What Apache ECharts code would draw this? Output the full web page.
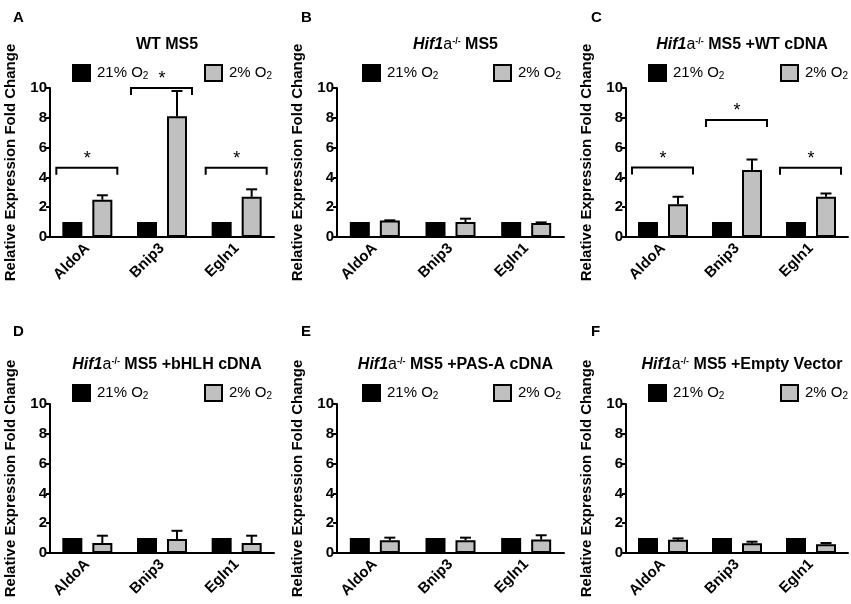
<!DOCTYPE html>
<html>
<head>
<meta charset="utf-8">
<script src="https://cdn.jsdelivr.net/npm/echarts@6/dist/echarts.min.js"></script>
<style>
  html, body { margin: 0; padding: 0; background: #fff; }
  #chart { width: 851px; height: 604px; }
</style>
</head>
<body>
<div id="chart"></div>
<script>
// категории по оси X (общие для всех панелей)
var categories = ['AldoA', 'Bnip3', 'Egln1'];
var legendNames = ['21% O2', '2% O2'];

// A: WT MS5
var normA = [1, 1, 1];
var hypoA = [2.5, 8.1, 2.7];
var errA = [0.3, 1.7, 0.5];
var sigA = [4.65, 10.0, 4.65];

// B: Hif1a-/- MS5
var normB = [1, 1, 1];
var hypoB = [1.1, 1.0, 0.94];
var errB = [0.02, 0.23, 0.04];

// C: Hif1a-/- MS5 +WT cDNA
var normC = [1, 1, 1];
var hypoC = [2.2, 4.5, 2.7];
var errC = [0.5, 0.7, 0.22];
var sigC = [4.66, 7.85, 4.64];

// D: +bHLH cDNA
var normD = [1, 1, 1];
var hypoD = [0.67, 0.94, 0.67];
var errD = [0.49, 0.55, 0.49];

// E: +PAS-A cDNA
var normE = [1, 1, 1];
var hypoE = [0.86, 0.86, 0.9];
var errE = [0.17, 0.17, 0.29];

// F: +Empty Vector
var normF = [1, 1, 1];
var hypoF = [0.89, 0.65, 0.58];
var errF = [0.09, 0.11, 0.09];

var panels = [
    { letter: 'A', title: '{b|WT MS5}', norm: normA, hypo: hypoA, err: errA, sig: sigA },
    { letter: 'B', title: '{i|Hif1}{a|a}{sup|-/-}{b| MS5}', norm: normB, hypo: hypoB, err: errB },
    { letter: 'C', title: '{i|Hif1}{a|a}{sup|-/-}{b| MS5 +WT cDNA}', norm: normC, hypo: hypoC, err: errC, sig: sigC },
    { letter: 'D', title: '{i|Hif1}{a|a}{sup|-/-}{b| MS5 +bHLH cDNA}', norm: normD, hypo: hypoD, err: errD },
    { letter: 'E', title: '{i|Hif1}{a|a}{sup|-/-}{b| MS5 +PAS-A cDNA}', norm: normE, hypo: hypoE, err: errE },
    { letter: 'F', title: '{i|Hif1}{a|a}{sup|-/-}{b| MS5 +Empty Vector}', norm: normF, hypo: hypoF, err: errF }
];

var FONT = 'Arial, "Liberation Sans", sans-serif';
// расположение сеток
var colLeft = [50, 337, 626];
var colWidth = [224, 227, 222];
var rowTop = [88, 404];
var gridH = 149;
var letterX = [8, 296, 586];
var legendX = [[72, 204], [362, 493], [648, 780]];
var BAR_OFFSET = 15; // центр серого столбца относительно центра категории

var titleRich = {
    b: { fontWeight: 'bold', fontSize: 16, color: '#000', fontFamily: FONT },
    i: { fontWeight: 'bold', fontStyle: 'italic', fontSize: 16, color: '#000', fontFamily: FONT },
    a: { fontWeight: 'normal', fontSize: 16, color: '#000', fontFamily: FONT },
    sup: { fontSize: 9, color: '#000', fontFamily: FONT, verticalAlign: 'top', lineHeight: 10, padding: [0, 0, 6, 0] }
};

function renderErr(params, api) {
    var idx = api.value(0);
    var mean = api.value(1);
    var e = api.value(2);
    var p0 = api.coord([idx, mean]);
    var p1 = api.coord([idx, mean + e]);
    var x = p0[0] + BAR_OFFSET;
    var st = { stroke: '#000', lineWidth: 2 };
    return {
        type: 'group',
        children: [
            { type: 'line', shape: { x1: x, y1: p0[1], x2: x, y2: p1[1] }, style: st },
            { type: 'line', shape: { x1: x - 5.5, y1: p1[1], x2: x + 5.5, y2: p1[1] }, style: st }
        ]
    };
}

function renderSig(params, api) {
    var idx = api.value(0);
    var p = api.coord([idx, api.value(1)]);
    var cx = p[0], y = p[1];
    return {
        type: 'group',
        children: [
            { type: 'polyline', shape: { points: [[cx - 31, y + 7], [cx - 31, y], [cx + 30, y], [cx + 30, y + 7]] },
              style: { stroke: '#000', lineWidth: 2, fill: null } },
            { type: 'text', x: cx, y: y - 9,
              style: { text: '*', fill: '#000', font: '18px ' + FONT, textAlign: 'center', textVerticalAlign: 'middle' } }
        ]
    };
}

var grids = [], xAxes = [], yAxes = [], series = [], titles = [], legends = [];

panels.forEach(function (pn, i) {
    var col = i % 3, row = Math.floor(i / 3);
    grids.push({ left: colLeft[col], top: rowTop[row], width: colWidth[col], height: gridH });
    xAxes.push({
        type: 'category', gridIndex: i, data: categories,
        axisLine: { lineStyle: { color: '#000', width: 2 } },
        axisTick: { alignWithLabel: true, length: 5, lineStyle: { color: '#000', width: 2 } },
        axisLabel: { rotate: 45, color: '#000', fontWeight: 'bold', fontSize: 15, fontFamily: FONT, margin: 9 }
    });
    yAxes.push({
        type: 'value', gridIndex: i, min: 0, max: 10, interval: 2,
        axisLine: { show: true, lineStyle: { color: '#000', width: 2 } },
        axisTick: { show: true, length: 4, lineStyle: { color: '#000', width: 2 } },
        axisLabel: { color: '#000', fontWeight: 'bold', fontSize: 15, fontFamily: FONT, margin: 3 },
        splitLine: { show: false },
        name: 'Relative Expression Fold Change', nameLocation: 'middle', nameGap: 32,
        nameTextStyle: { color: '#000', fontWeight: 'bold', fontSize: 15, fontFamily: FONT }
    });
    series.push({
        name: legendNames[0], type: 'bar', xAxisIndex: i, yAxisIndex: i,
        data: pn.norm, barWidth: 20, barGap: '50%',
        itemStyle: { color: '#000', borderColor: '#000', borderWidth: 2 }
    });
    series.push({
        name: legendNames[1], type: 'bar', xAxisIndex: i, yAxisIndex: i,
        data: pn.hypo, barWidth: 20,
        itemStyle: { color: '#c0c0c0', borderColor: '#000', borderWidth: 2 }
    });
    series.push({
        type: 'custom', xAxisIndex: i, yAxisIndex: i, z: 5,
        renderItem: renderErr,
        data: pn.hypo.map(function (v, k) { return [k, v, pn.err[k]]; })
    });
    if (pn.sig) {
        series.push({
            type: 'custom', xAxisIndex: i, yAxisIndex: i, z: 5,
            renderItem: renderSig,
            data: pn.sig.map(function (v, k) { return [k, v]; })
        });
    }
    titles.push({
        text: pn.letter, left: letterX[col], top: row === 0 ? 5 : 319,
        textStyle: { fontWeight: 'bold', fontSize: 15, color: '#000', fontFamily: FONT }
    });
    titles.push({
        text: pn.title, left: colLeft[col] + colWidth[col] / 2, top: row === 0 ? 32 : 352,
        textAlign: 'center',
        textStyle: { rich: titleRich }
    });
    // по одной легенде на каждый элемент, чтобы не было переноса строк
    legendNames.forEach(function (nm, k) {
        legends.push({
            data: [{ name: nm, icon: 'rect' }], left: legendX[col][k], top: row === 0 ? 64 : 384,
            itemWidth: 17, itemHeight: 16, padding: 0,
            selectedMode: false,
            formatter: function (name) {
                return '{n|' + name.slice(0, -1) + '}{s|2}';
            },
            textStyle: {
                padding: [0, 0, 0, 2],
                rich: {
                    n: { fontSize: 15, color: '#000', fontFamily: FONT },
                    s: { fontSize: 10, color: '#000', fontFamily: FONT, verticalAlign: 'bottom', padding: [6, 0, 0, 0] }
                }
            }
        });
    });
});

var chart = echarts.init(document.getElementById('chart'));
chart.setOption({
    animation: false,
    backgroundColor: '#fff',
    title: titles,
    legend: legends,
    grid: grids,
    xAxis: xAxes,
    yAxis: yAxes,
    series: series
});
</script>
</body>
</html>
